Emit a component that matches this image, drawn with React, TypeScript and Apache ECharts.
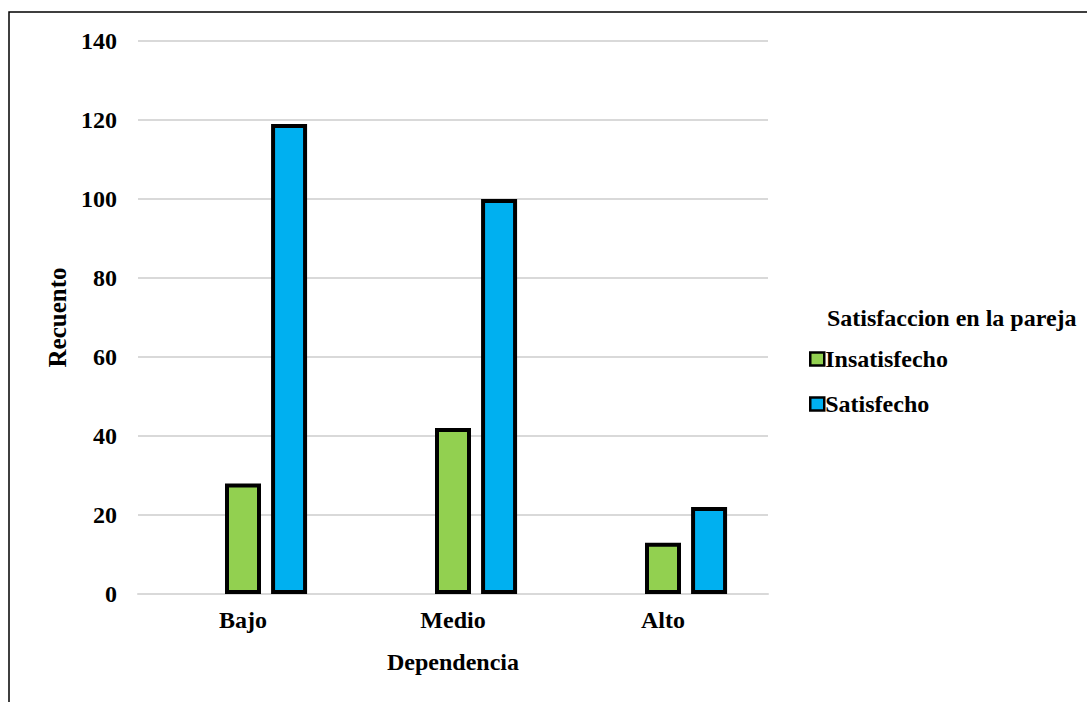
import React, { useEffect, useRef } from "react";
import * as echarts from "echarts";

// Dependencia x Satisfaccion en la pareja (recuento)
const categories = ["Bajo", "Medio", "Alto"];
const insatisfecho = [28, 42, 13];
const satisfecho = [119, 100, 22];
const yTicks = { min: 0, max: 140, interval: 20 };

const FONT = "Liberation Serif";

export default function App() {
  const ref = useRef<HTMLDivElement>(null);

  useEffect(() => {
    if (!ref.current) return;
    const chart = echarts.init(ref.current, undefined, { renderer: "svg" });
    const barBorder = { borderColor: "#000", borderWidth: 4 };
    const boldText = { fontFamily: FONT, fontWeight: "bold" as const, fontSize: 24, color: "#000" };
    chart.setOption({
      animation: false,
      backgroundColor: "#fff",
      textStyle: { fontFamily: FONT, fontWeight: "bold", color: "#000" },
      graphic: [
        {
          type: "rect",
          shape: { x: 9, y: 12, width: 1100, height: 720 },
          style: { fill: "none", stroke: "#000", lineWidth: 1.5 },
          silent: true,
        },
        {
          type: "text",
          left: 827,
          top: 306,
          style: {
            text: "Satisfaccion en la pareja",
            fontFamily: FONT,
            fontWeight: "bold",
            fontSize: 24,
            fill: "#000",
          },
        },
      ],
      legend: {
        orient: "vertical",
        left: 804,
        top: 342,
        itemWidth: 14,
        itemHeight: 13,
        itemGap: 21,
        icon: "rect",
        data: ["Insatisfecho", "Satisfecho"],
        textStyle: { ...boldText, padding: [0, 0, 0, -4] },
        itemStyle: { borderColor: "#000", borderWidth: 2.5 },
      },
      grid: { left: 138, right: 319, top: 41, bottom: 108, containLabel: false },
      xAxis: {
        type: "category",
        data: categories,
        name: "Dependencia",
        nameLocation: "middle",
        nameGap: 56,
        nameTextStyle: boldText,
        axisLine: { show: true, lineStyle: { color: "#d9d9d9", width: 2 } },
        axisTick: { show: false },
        axisLabel: { ...boldText, margin: 14 },
      },
      yAxis: {
        type: "value",
        min: yTicks.min,
        max: yTicks.max,
        interval: yTicks.interval,
        name: "Recuento",
        nameLocation: "middle",
        nameGap: 63,
        nameRotate: 90,
        nameTextStyle: { ...boldText, fontSize: 25 },
        axisLine: { show: false },
        axisTick: { show: false },
        axisLabel: { ...boldText, margin: 21 },
        splitLine: { lineStyle: { color: "#d9d9d9", width: 2 } },
      },
      series: [
        {
          // empty leading slot of each category group
          name: "_",
          type: "bar",
          data: categories.map(() => "-"),
          barWidth: 36,
          barGap: "28%",
          silent: true,
        },
        {
          name: "Insatisfecho",
          type: "bar",
          data: insatisfecho,
          barWidth: 36,
          barGap: "28%",
          itemStyle: { color: "#92D050", ...barBorder },
        },
        {
          name: "Satisfecho",
          type: "bar",
          data: satisfecho,
          barWidth: 36,
          barGap: "28%",
          itemStyle: { color: "#00B0F0", ...barBorder },
        },
      ],
    });
    return () => chart.dispose();
  }, []);

  return (
    <div
      ref={ref}
      style={{ position: "fixed", left: 0, top: 0, width: 1087, height: 702 }}
    />
  );
}
